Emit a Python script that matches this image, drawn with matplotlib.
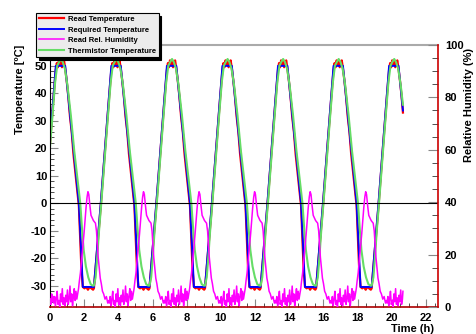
import matplotlib
matplotlib.use('Agg')
import matplotlib.pyplot as plt
from matplotlib.ticker import MultipleLocator
import numpy as np

plt.rcParams['font.family'] = ['Liberation Sans', 'DejaVu Sans']
plt.rcParams['font.weight'] = 'bold'
plt.rcParams['axes.unicode_minus'] = False

# time of the rising zero crossing of every temperature cycle (h)
cycle_start = [-0.28, 2.97, 6.22, 9.47, 12.72, 15.97, 19.22]
t_end = 20.65

# Required temperature, one cycle, time relative to cycle_start
req_dt = [-0.40, 0.00, 0.62, 1.17, 1.97, 2.20]
req_T = [-30.5, 0.0, 50.0, 50.0, 0.0, -30.5]

# Read temperature (noisy copy of the set point)
read_dt = [-0.40, -0.30, -0.20, -0.10, 0.00, 0.12, 0.25, 0.38, 0.50, 0.62, 0.68,
           0.74, 0.80, 0.86, 0.92, 0.98, 1.04, 1.10, 1.17, 1.25, 1.35, 1.45,
           1.55, 1.65, 1.75, 1.85, 1.97, 2.05, 2.12, 2.20, 2.30, 2.40, 2.50,
           2.60, 2.70, 2.80]
read_T = [-31.0, -23.5, -16.0, -8.5, -1.0, 9.0, 19.5, 30.0, 39.5, 48.5, 51.0,
          49.5, 52.0, 50.5, 51.5, 49.5, 51.0, 52.0, 49.0, 45.0, 39.0, 31.5,
          26.0, 18.0, 12.0, 6.0, -1.0, -13.0, -24.0, -30.5, -31.0, -30.5, -31.5,
          -30.5, -31.0, -31.5]

# Thermistor temperature (lags a little, rounded bottom)
therm_dt = [-0.40, -0.30, -0.20, -0.10, 0.03, 0.20, 0.40, 0.58, 0.70, 0.82, 0.92,
            1.02, 1.15, 1.30, 1.50, 1.70, 1.90, 2.05, 2.15, 2.25, 2.38, 2.52,
            2.66, 2.78]
therm_T = [-30.0, -27.0, -19.0, -10.0, 0.0, 14.0, 30.0, 44.0, 50.0, 51.5, 52.5,
           51.5, 49.0, 43.0, 32.0, 19.0, 8.0, 0.0, -9.0, -17.0, -23.0, -27.0,
           -29.5, -30.0]

# Read relative humidity, one cycle, time relative to cycle_start
hum_dt = [0.50, 0.55, 0.60, 0.65, 0.70, 0.75, 0.80, 0.85, 0.90, 0.95, 1.00,
          1.05, 1.10, 1.15, 1.20, 1.25, 1.30, 1.35, 1.40, 1.45, 1.50, 1.55,
          1.60, 1.65, 1.70, 1.75, 1.80, 1.85,
          1.90, 1.95, 2.00, 2.06, 2.13, 2.20, 2.27, 2.33, 2.39, 2.45, 2.50,
          2.55, 2.61, 2.68, 2.75, 2.82, 2.88, 2.94, 3.00, 3.05, 3.10, 3.16,
          3.22, 3.28, 3.35, 3.42, 3.50, 3.58, 3.66, 3.72]
hum_RH = [1.5, 4.0, 0.5, 3.0, 6.0, 1.0, 2.5, 0.0, 5.0, 2.0, 7.0,
          1.0, 3.5, 0.5, 4.5, 2.0, 6.5, 1.0, 3.0, 8.0, 2.0, 5.0,
          0.5, 4.0, 7.0, 2.5, 6.0, 3.0,
          5.0, 7.0, 10.0, 13.0, 18.0, 23.0, 28.0, 33.0, 38.0, 42.0, 44.0,
          43.0, 39.0, 35.0, 34.0, 33.0, 32.5, 32.0, 29.0, 24.0, 19.0, 15.0,
          11.0, 9.0, 6.0, 5.0, 3.0, 4.0, 1.5, 2.5]
hum_first_t = [0.00, 0.05, 0.10, 0.15, 0.20]
hum_first_RH = [3.0, 1.0, 5.0, 2.0, 4.0]


def tile(starts, dt, vals, t_end):
    t = np.concatenate([s + np.array(dt) for s in starts])
    v = np.tile(vals, len(starts))
    keep = (t > 0) & (t < t_end)
    tt = np.concatenate([[0.0], t[keep], [t_end]])
    vv = np.concatenate([[np.interp(0.0, t, v)], v[keep], [np.interp(t_end, t, v)]])
    return tt, vv


tReq, vReq = tile(cycle_start, req_dt, req_T, t_end)
tRead, vRead = tile(cycle_start, read_dt, read_T, t_end)
tTherm, vTherm = tile(cycle_start, therm_dt, therm_T, t_end)
tHum, vHum = tile(cycle_start, hum_dt, hum_RH, t_end)
tHum = np.concatenate([hum_first_t, tHum[1:]])
vHum = np.concatenate([hum_first_RH, vHum[1:]])

fig = plt.figure(figsize=(4.77, 3.34), dpi=100)
ax = fig.add_axes([0.1048, 0.0808, 0.8134, 0.7845])
ax2 = ax.twinx()

lRead, = ax.plot(tRead, vRead, color='#ff0000', lw=1.6, label='Read Temperature')
lReq, = ax.plot(tReq, vReq, color='#0000ff', lw=1.4, label='Required Temperature')
lTherm, = ax.plot(tTherm, vTherm, color='#66dd66', lw=1.5, label='Thermistor Temperature')
lHum, = ax2.plot(tHum, vHum, color='#ff00ff', lw=1.1, label='Read Rel. Humidity')
ax.axhline(0, color='black', lw=0.8)

ax.set_xlim(0, 22.7)
ax.set_ylim(-37.8, 57.6)
ax2.set_ylim(0, 100)

ax.set_xticks(range(0, 23, 2))
ax.xaxis.set_minor_locator(MultipleLocator(0.5))
ax.set_yticks(range(-30, 51, 10))
ax.yaxis.set_minor_locator(MultipleLocator(2))
ax2.set_yticks(range(0, 101, 20))
ax2.yaxis.set_minor_locator(MultipleLocator(5))

ax.tick_params(axis='x', which='both', direction='in', top=False, labelsize=8, pad=4)
ax.tick_params(axis='y', which='both', direction='in', right=False, labelsize=8, pad=2)
ax.tick_params(which='major', length=6, color='#888888')
ax.tick_params(which='minor', length=3, color='#333333')
ax2.tick_params(axis='y', which='both', direction='in', labelsize=8, pad=5)
ax2.tick_params(which='major', length=7, color='#888888')
ax2.tick_params(which='minor', length=4, color='#333333')

ax.spines['left'].set_color('black')
ax.spines['bottom'].set_color('#aa0000')
ax.spines['bottom'].set_linewidth(1.2)
ax.spines['top'].set_color('#aaaaaa')
ax.spines['top'].set_linewidth(1.5)
ax.spines['right'].set_visible(False)
for s in ['left', 'top', 'bottom']:
    ax2.spines[s].set_visible(False)
ax2.spines['right'].set_color('#cc0000')
ax2.spines['right'].set_linewidth(1.2)

ax.text(-0.077, 1.0, 'Temperature [ºC]', transform=ax.transAxes, rotation=90,
        ha='center', va='top', fontsize=8, fontweight='bold')
ax2.text(1.08, 0.99, 'Relative Humidity (%)', transform=ax.transAxes, rotation=90,
         ha='center', va='top', fontsize=8, fontweight='bold')
ax.text(0.99, -0.065, 'Time (h)', transform=ax.transAxes,
        ha='right', va='top', fontsize=8, fontweight='bold')

leg = fig.legend(handles=[lRead, lReq, lHum, lTherm], loc='upper left',
                 bbox_to_anchor=(0.0755, 0.961), fontsize=5.5, frameon=True,
                 fancybox=False, shadow={'color': 'black', 'alpha': 1.0},
                 edgecolor='black', facecolor='#ececec', framealpha=1.0,
                 handlelength=3.3, labelspacing=0.42, borderpad=0.35,
                 handletextpad=0.5, borderaxespad=0.0)
leg.get_frame().set_linewidth(0.8)
for t in leg.get_texts():
    t.set_fontweight('bold')

fig.savefig('out.png', dpi=100)
